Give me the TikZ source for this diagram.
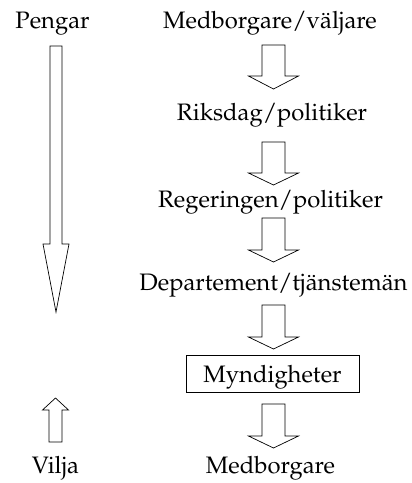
\documentclass[tikz,border=0pt]{standalone}
\usepackage[T1]{fontenc}
\usepackage{mathpazo}
\usetikzlibrary{calc}
\tikzset{
  lbl/.style={inner sep=0pt, anchor=base, font=\fontsize{23.8}{28}\selectfont},
  boxed/.style={draw, line width=0.9pt, minimum width=173pt, minimum height=37pt, inner sep=0pt},
  blockarrow/.style={draw, line width=0.7pt, line join=miter, fill=white}
}
% hollow block arrow: #1 = centre of the shaft end, #2 = tip,
% #3 = shaft half width, #4 = head half width, #5 = head length (signed)
\newcommand\blockarr[5]{%
  \draw[blockarrow] ($(#1)+(-#3,0)$) -- ($(#2)+(-#3,#5)$) -- ($(#2)+(-#4,#5)$)
    -- (#2) -- ($(#2)+(#4,#5)$) -- ($(#2)+(#3,#5)$) -- ($(#1)+(#3,0)$) -- cycle;}
\begin{document}
\begin{tikzpicture}[x=1pt,y=1pt]
\useasboundingbox (0,0) rectangle (412,-483);

% labels of the two columns
\node[lbl] (pengar) at (52.5,-28) {Pengar};
\node[lbl] (vilja)  at (55.5,-473) {Vilja};

% chain of actors
\node[lbl] (medv)  at (270,-28)   {Medborgare/v\"aljare};
\node[lbl] (riks)  at (272,-120)  {Riksdag/politiker};
\node[lbl] (reg)   at (270.5,-207) {Regeringen/politiker};
\node[lbl] (dep)   at (273.5,-290) {Departement/tj\"anstem\"an};
\node[boxed] (myn) at (272.5,-373.5) {};
\node[lbl] (myntext) at (272.5,-382) {Myndigheter};
\node[lbl] (med)   at (270.5,-473) {Medborgare};

% end points of the arrows
\coordinate (a1t) at (273.5,-45);  \coordinate (a1h) at (273.5,-89);
\coordinate (a2t) at (273.5,-142); \coordinate (a2h) at (273.5,-185);
\coordinate (a3t) at (273.5,-218); \coordinate (a3h) at (273.5,-262);
\coordinate (a4t) at (273.5,-305); \coordinate (a4h) at (273.5,-349);
\coordinate (a5t) at (273.5,-404); \coordinate (a5h) at (273.5,-448);
\coordinate (pt)  at (56,-46);     \coordinate (ph)  at (56,-312);
\coordinate (vt)  at (55.5,-442);  \coordinate (vh)  at (55.5,-398);

\blockarr{a1t}{a1h}{11.5}{25}{13}
\blockarr{a2t}{a2h}{11.5}{25}{12}
\blockarr{a3t}{a3h}{11.5}{25}{12}
\blockarr{a4t}{a4h}{11.5}{25}{12}
\blockarr{a5t}{a5h}{11.5}{25}{12}

% money flows down, will flows up
\blockarr{pt}{ph}{6}{13}{68}
\blockarr{vt}{vh}{6.5}{13}{-12}
\end{tikzpicture}
\end{document}
